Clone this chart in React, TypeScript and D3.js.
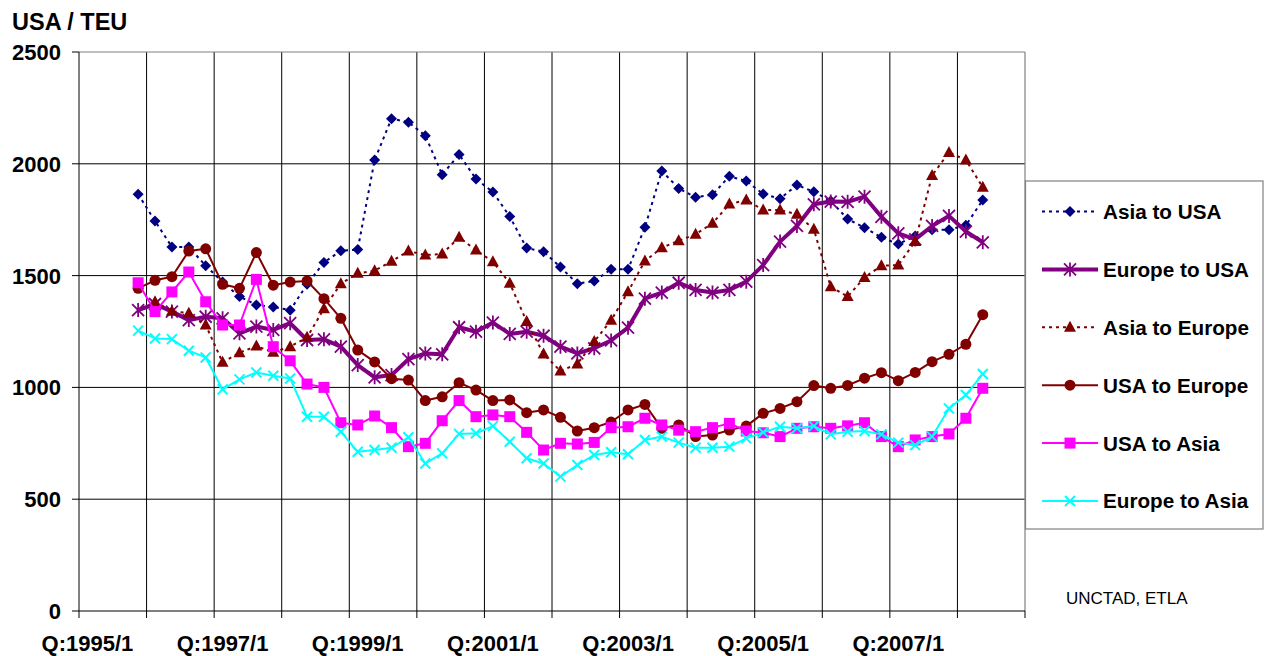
import React from 'react';
import * as d3 from 'd3';

const W = 1266;
const H = 656;

// categories: quarters 1995/1 .. 2008/4
const years = d3.range(1995, 2009);
const categories: string[] = years.flatMap((y) => [1, 2, 3, 4].map((q) => `Q:${y}/${q}`));
const tickLabels = ['Q:1995/1', 'Q:1997/1', 'Q:1999/1', 'Q:2001/1', 'Q:2003/1', 'Q:2005/1', 'Q:2007/1'];
const yTicks = [0, 500, 1000, 1500, 2000, 2500];

// series values (USD / TEU), starting at Q:1995/4 unless noted
const asiaToUSA = [1864, 1744, 1628, 1628, 1544, 1471, 1406, 1369, 1360, 1345, 1461, 1559, 1611, 1617, 2017, 2202, 2186, 2126, 1951, 2042, 1932, 1874, 1764, 1623, 1607, 1538, 1464, 1476, 1528, 1528, 1716, 1968, 1890, 1850, 1862, 1944, 1923, 1865, 1844, 1905, 1875, 1834, 1753, 1714, 1671, 1641, 1677, 1705, 1705, 1725, 1838];
const europeToUSA = [1346, 1373, 1339, 1301, 1316, 1309, 1242, 1272, 1257, 1287, 1212, 1215, 1182, 1100, 1045, 1055, 1126, 1152, 1148, 1269, 1249, 1290, 1239, 1249, 1231, 1182, 1152, 1175, 1210, 1267, 1397, 1424, 1468, 1436, 1424, 1436, 1473, 1547, 1652, 1722, 1819, 1831, 1830, 1853, 1763, 1689, 1662, 1722, 1767, 1697, 1649];
// starts at Q:1996/1
const asiaToEurope = [1383, 1341, 1332, 1279, 1112, 1155, 1185, 1157, 1182, 1224, 1352, 1464, 1510, 1522, 1564, 1610, 1592, 1597, 1671, 1614, 1562, 1466, 1295, 1149, 1073, 1105, 1205, 1300, 1428, 1565, 1625, 1656, 1685, 1734, 1820, 1838, 1793, 1793, 1774, 1707, 1450, 1406, 1492, 1544, 1547, 1653, 1948, 2051, 2017, 1895];
const usaToEurope = [1443, 1479, 1495, 1610, 1620, 1461, 1443, 1603, 1457, 1471, 1476, 1397, 1309, 1167, 1114, 1039, 1033, 941, 958, 1021, 988, 941, 944, 887, 899, 866, 805, 820, 845, 899, 924, 817, 832, 780, 787, 809, 827, 884, 906, 936, 1008, 996, 1009, 1041, 1066, 1030, 1067, 1115, 1148, 1193, 1325];
const usaToAsia = [1468, 1339, 1427, 1516, 1383, 1279, 1279, 1483, 1182, 1119, 1015, 1000, 842, 832, 872, 820, 735, 750, 851, 941, 869, 877, 869, 799, 720, 750, 747, 754, 820, 824, 862, 832, 809, 802, 820, 839, 805, 797, 780, 817, 824, 817, 828, 842, 780, 735, 765, 780, 792, 862, 996];
const europeToAsia = [1254, 1219, 1216, 1164, 1134, 991, 1036, 1067, 1052, 1040, 869, 869, 802, 712, 720, 730, 777, 660, 705, 792, 795, 827, 757, 683, 660, 601, 653, 698, 710, 701, 765, 780, 753, 730, 730, 735, 772, 799, 824, 817, 827, 790, 802, 805, 790, 753, 742, 780, 906, 966, 1060];

type Marker = 'diamond' | 'star' | 'triangle' | 'circle' | 'square' | 'x';
interface Series { name: string; values: number[]; start: string; color: string; width: number; dash?: string; marker: Marker; }

const series: Series[] = [
  { name: 'Asia to USA', values: asiaToUSA, start: 'Q:1995/4', color: '#000080', width: 2, dash: '3,4', marker: 'diamond' },
  { name: 'Europe to USA', values: europeToUSA, start: 'Q:1995/4', color: '#800080', width: 4, marker: 'star' },
  { name: 'Asia to Europe', values: asiaToEurope, start: 'Q:1996/1', color: '#800000', width: 2, dash: '3,4', marker: 'triangle' },
  { name: 'USA to Europe', values: usaToEurope, start: 'Q:1995/4', color: '#800000', width: 2, marker: 'circle' },
  { name: 'USA to Asia', values: usaToAsia, start: 'Q:1995/4', color: '#FF00FF', width: 2, marker: 'square' },
  { name: 'Europe to Asia', values: europeToAsia, start: 'Q:1995/4', color: '#00FFFF', width: 2, marker: 'x' },
];

const plot = { left: 79, right: 1025, top: 52, bottom: 611 };
const FONT = 'Liberation Sans, Arial, Helvetica, sans-serif';

const x = d3.scaleBand<string>().domain(categories).range([plot.left, plot.right]).padding(0);
const y = d3.scaleLinear().domain([0, 2500]).range([plot.bottom, plot.top]);
const cx = (c: string) => (x(c) as number) + x.bandwidth() / 2;

function MarkerShape({ type, px, py, color }: { type: Marker; px: number; py: number; color: string }) {
  switch (type) {
    case 'diamond': {
      const r = 5.5;
      return <path d={`M${px},${py - r}L${px + r},${py}L${px},${py + r}L${px - r},${py}Z`} fill={color} />;
    }
    case 'triangle':
      return <path d={`M${px},${py - 6.5}L${px + 6},${py + 4.5}L${px - 6},${py + 4.5}Z`} fill={color} />;
    case 'circle':
      return <circle cx={px} cy={py} r={5.5} fill={color} />;
    case 'square':
      return <rect x={px - 5.5} y={py - 5.5} width={11} height={11} fill={color} />;
    case 'star': {
      const r = 7;
      const d = 6;
      return (
        <path
          d={`M${px},${py - r}L${px},${py + r}M${px - d},${py - d}L${px + d},${py + d}M${px + d},${py - d}L${px - d},${py + d}`}
          stroke={color}
          strokeWidth={1.8}
          fill="none"
        />
      );
    }
    case 'x': {
      const d = 5;
      return (
        <path
          d={`M${px - d},${py - d}L${px + d},${py + d}M${px + d},${py - d}L${px - d},${py + d}`}
          stroke={color}
          strokeWidth={2}
          fill="none"
        />
      );
    }
  }
  return null;
}

export default function App() {
  const line = d3
    .line<[number, number]>()
    .x((d) => d[0])
    .y((d) => d[1]);

  const yearStarts = years.map((yr) => `Q:${yr}/1`);
  const vLines = [...yearStarts.map((c) => x(c) as number), plot.right];

  const legend = { x: 1025.5, y: 181, w: 237.5, h: 348, row0: 211.5, step: 57.9 };

  return (
    <svg width={W} height={H} style={{ position: 'absolute', left: 0, top: 0, background: '#fff' }} fontFamily={FONT}>
      <rect x={0} y={0} width={W} height={H} fill="#fff" />
      {/* grid */}
      {yTicks.filter((t) => t > 0 && t < 2500).map((t) => (
        <line key={`h${t}`} x1={plot.left} x2={plot.right} y1={y(t)} y2={y(t)} stroke="#000" strokeWidth={1} />
      ))}
      {vLines.slice(1, -1).map((vx, i) => (
        <line key={`v${i}`} x1={vx} x2={vx} y1={plot.top} y2={plot.bottom} stroke="#000" strokeWidth={1} />
      ))}
      {/* plot border */}
      <line x1={plot.left} x2={plot.right} y1={plot.top} y2={plot.top} stroke="#808080" strokeWidth={1.2} />
      <line x1={plot.right} x2={plot.right} y1={plot.top} y2={plot.bottom} stroke="#808080" strokeWidth={1.2} />
      {/* axes */}
      <line x1={plot.left} x2={plot.left} y1={plot.top} y2={plot.bottom} stroke="#000" strokeWidth={1} />
      <line x1={plot.left} x2={plot.right} y1={plot.bottom} y2={plot.bottom} stroke="#000" strokeWidth={1.2} />
      {yTicks.map((t) => (
        <g key={`yt${t}`}>
          <line x1={plot.left - 7} x2={plot.left} y1={y(t)} y2={y(t)} stroke="#000" strokeWidth={1} />
          <text x={61} y={y(t)} dy="0.36em" textAnchor="end" fontSize={22} fontWeight="bold" fill="#000">
            {t}
          </text>
        </g>
      ))}
      {vLines.map((vx, i) => (
        <line key={`xt${i}`} x1={vx} x2={vx} y1={plot.bottom} y2={plot.bottom + 7} stroke="#000" strokeWidth={1} />
      ))}
      {tickLabels.map((c) => (
        <text key={c} x={cx(c)} y={651} textAnchor="middle" fontSize={22} fontWeight="bold" fill="#000">
          {c}
        </text>
      ))}
      {/* title */}
      <text x={12} y={30} fontSize={23.5} fontWeight="bold" fill="#000">USA / TEU</text>

      {/* series */}
      {series.map((s) => {
        const i0 = categories.indexOf(s.start);
        const pts: [number, number][] = s.values.map((v, i) => [cx(categories[i0 + i]), y(v)]);
        return (
          <g key={s.name}>
            <path d={line(pts) || ''} fill="none" stroke={s.color} strokeWidth={s.width} strokeDasharray={s.dash} strokeLinejoin="round" />
            {pts.map((p, i) => (
              <MarkerShape key={i} type={s.marker} px={p[0]} py={p[1]} color={s.color} />
            ))}
          </g>
        );
      })}

      {/* legend */}
      <rect x={legend.x} y={legend.y} width={legend.w} height={legend.h} fill="#fff" stroke="#808080" strokeWidth={1.2} />
      {series.map((s, i) => {
        const ly = legend.row0 + i * legend.step;
        return (
          <g key={`lg${s.name}`}>
            <line x1={1042} x2={1098} y1={ly} y2={ly} stroke={s.color} strokeWidth={s.width} strokeDasharray={s.dash} />
            <MarkerShape type={s.marker} px={1070} py={ly} color={s.color} />
            <text x={1103} y={ly} dy="0.36em" fontSize={20.7} fontWeight="bold" fill="#000">
              {s.name}
            </text>
          </g>
        );
      })}

      <text x={1066} y={604} fontSize={17} fill="#000">UNCTAD, ETLA</text>
    </svg>
  );
}
